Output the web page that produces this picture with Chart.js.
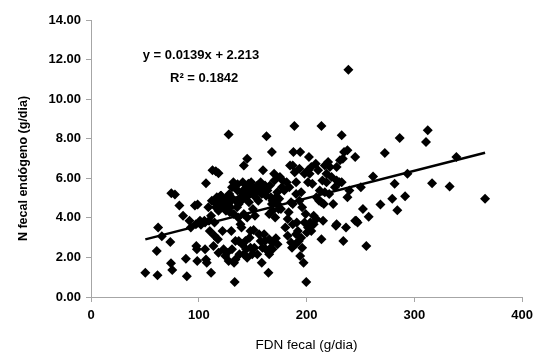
<!DOCTYPE html>
<html>
<head>
<meta charset="utf-8">
<script src="https://cdn.jsdelivr.net/npm/chart.js@4/dist/chart.umd.min.js"></script>
<style>
  html, body { margin: 0; padding: 0; background: #fff; }
  canvas { display: block; }
</style>
</head>
<body>
<canvas id="fdnChart" width="539" height="354"></canvas>
<script>
// FDN fecal (g/dia) vs N fecal endógeno (g/dia)
const fdnFecal = [
  50.4, 61.7, 61.0, 62.3, 65.7, 73.6, 74.2, 75.4, 74.5, 77.9,
  82.0, 85.4, 88.0, 88.9, 91.4, 92.6, 96.4, 98.9, 97.7, 98.2,
  98.6, 97.3, 102.0, 105.2, 105.8, 106.7, 107.4, 106.7, 109.5, 110.2,
  111.4, 112.1, 112.7, 115.8, 118.3, 113.6, 114.6, 115.8, 116.7, 117.7,
  118.9, 120.2, 121.4, 122.0, 123.0, 124.6, 125.2, 126.1, 127.1, 127.7,
  128.3, 129.3, 127.7, 130.2, 130.8, 132.1, 133.3, 132.7, 134.0, 132.4,
  134.6, 135.5, 136.5, 137.1, 137.7, 138.7, 139.6, 140.2, 140.8, 141.8,
  142.7, 143.3, 144.0, 144.9, 145.2, 146.5, 147.1, 148.0, 149.0, 149.6,
  150.2, 150.9, 151.5, 152.1, 153.4, 154.3, 155.9, 157.4, 158.4, 159.0,
  158.4, 159.6, 160.6, 161.5, 162.1, 162.8, 164.6, 165.3, 166.0, 166.8,
  167.8, 167.8, 168.4, 169.9, 170.9, 171.5, 173.1, 174.0, 175.3, 176.2,
  177.8, 179.3, 180.3, 181.5, 182.5, 183.4, 184.7, 185.6, 186.5, 187.2,
  188.7, 187.8, 189.0, 190.3, 190.9, 191.9, 192.8, 194.1, 194.1, 195.0,
  195.9, 197.2, 198.1, 199.1, 199.7, 200.3, 201.3, 202.2, 202.8, 203.4,
  204.4, 205.3, 206.6, 208.5, 209.1, 211.6, 213.8, 213.8, 214.7, 215.3,
  216.0, 216.9, 218.5, 220.0, 221.0, 223.2, 224.7, 226.3, 227.2, 227.9,
  230.4, 232.6, 233.6, 234.1, 236.6, 237.9, 238.8, 237.9, 239.7, 245.1,
  246.0, 250.4, 252.3, 255.4, 257.6, 261.7, 268.5, 272.6, 279.5, 281.7,
  284.2, 286.4, 291.4, 293.6, 310.8, 312.4, 316.4, 332.7, 339.0, 365.6,
  108.9, 111.4, 118.3, 120.8, 123.0, 124.6, 130.2, 133.3, 137.1, 138.7,
  143.3, 145.8, 149.6, 152.7, 155.2, 156.5, 161.5, 163.7, 168.4, 171.5,
  173.1, 174.6, 177.1, 168.4, 165.3, 141.8, 144.9, 148.0, 140.2, 141.8,
  144.9, 154.3, 155.9, 157.4, 165.3, 166.8, 168.4, 134.0, 130.8, 126.1,
  118.3, 114.6, 105.8, 101.1, 190.3, 193.4, 187.2, 184.0, 195.9, 198.1,
  201.3, 204.4, 190.3, 189.7, 195.0, 182.5, 185.6, 187.2, 193.4, 201.3,
  210.7, 212.2, 218.5, 221.6, 227.9, 231.0, 232.6, 234.8, 227.9, 245.1,
  247.3, 209.1, 213.8, 216.9, 206.6,
  119.5, 125.8, 131.5, 135.9, 147.3, 151.0, 159.3, 170.2, 126.5, 136.0,
  146.0, 153.0, 142.5, 162.5, 172.8, 128.8, 139.3, 121.7, 116.2, 148.6
];
const nEndogeno = [
  1.22, 1.10, 2.32, 3.51, 3.07, 2.78, 1.71, 1.37, 5.24, 5.18,
  4.62, 4.11, 1.93, 1.05, 3.85, 3.51, 4.62, 4.67, 2.58, 2.41,
  1.82, 3.68, 3.65, 3.85, 2.41, 1.90, 1.73, 5.75, 3.85, 3.34,
  1.22, 4.87, 6.40, 6.35, 6.26, 2.58, 3.09, 4.53, 5.04, 2.92,
  4.87, 5.12, 4.70, 3.34, 2.41, 2.07, 4.36, 4.87, 4.70, 8.21,
  5.21, 4.53, 1.82, 3.34, 5.55, 5.80, 0.76, 1.73, 1.90, 4.19,
  4.87, 4.53, 4.02, 2.83, 2.16, 3.68, 3.51, 5.29, 5.80, 6.65,
  5.04, 2.83, 2.41, 6.99, 5.63, 4.79, 3.00, 2.49, 5.46, 2.16,
  4.45, 3.38, 2.49, 4.11, 5.29, 5.63, 5.38, 5.80, 5.21, 2.49,
  1.73, 6.40, 3.17, 2.83, 2.41, 8.13, 1.22, 2.16, 5.63, 5.04,
  4.70, 7.33, 2.41, 6.23, 4.02, 2.97, 2.66, 4.45, 6.06, 4.45,
  5.89, 5.38, 3.51, 5.80, 3.09, 4.28, 6.65, 2.75, 2.49, 3.68,
  8.64, 7.33, 6.31, 5.80, 3.77, 3.34, 2.83, 7.33, 2.07, 5.29,
  2.49, 1.73, 6.23, 4.19, 0.76, 3.26, 5.80, 7.08, 6.23, 3.77,
  6.57, 5.72, 3.68, 6.74, 3.94, 4.87, 8.64, 2.92, 5.89, 3.85,
  4.70, 6.65, 6.23, 6.82, 5.21, 6.06, 4.70, 5.55, 3.60, 6.57,
  5.80, 8.18, 6.99, 2.83, 3.51, 7.42, 11.49, 5.04, 5.38, 7.08,
  3.85, 5.55, 4.45, 2.58, 4.06, 6.09, 4.67, 7.28, 4.96, 5.72,
  4.39, 8.03, 5.09, 6.23, 7.84, 8.43, 5.75, 5.58, 7.08, 4.96,
  4.53, 4.11, 4.36, 5.12, 4.53, 4.96, 4.87, 5.55, 4.70, 5.04,
  5.29, 5.12, 5.55, 5.04, 4.87, 5.46, 5.63, 5.38, 4.87, 5.04,
  4.70, 4.96, 5.55, 4.36, 4.19, 4.19, 4.02, 3.34, 2.66, 2.16,
  1.99, 2.16, 3.17, 2.83, 2.92, 2.49, 2.75, 2.83, 2.41, 2.24,
  2.24, 3.77, 3.77, 3.85, 5.21, 4.87, 4.70, 5.55, 4.53, 3.77,
  3.51, 3.34, 3.17, 2.66, 3.00, 3.94, 4.79, 6.65, 6.48, 6.40,
  6.40, 5.38, 5.80, 6.57, 5.89, 6.91, 5.80, 7.33, 3.68, 3.85,
  3.77, 5.04, 4.79, 5.29, 4.11,
  4.62, 4.45, 4.96, 5.38, 5.38, 5.21, 5.46, 5.89, 5.04, 5.70,
  5.72, 5.46, 5.46, 5.12, 5.29, 4.28, 4.87, 4.87, 4.70, 5.80
];

const xTicks = [0, 100, 200, 300, 400];
const yTicks = [0, 2, 4, 6, 8, 10, 12, 14];

// linear trend shown on the chart
const slope = 0.0139;
const intercept = 2.213;
const eqLabel = "y = 0.0139x + 2.213";
const r2Label = "R\u00B2 = 0.1842";

const points = fdnFecal.map((x, i) => ({ x: x, y: nEndogeno[i] }));
const xMin = Math.min(...fdnFecal);
const xMax = Math.max(...fdnFecal);
const trend = [xMin, xMax].map(x => ({ x: x, y: slope * x + intercept }));

const FONT = "'Liberation Sans', Arial, sans-serif";
const axisGray = "#a6a6a6";

const textPlugin = {
  id: "texts",
  afterDraw(chart) {
    const { ctx } = chart;
    const xs = chart.scales.x, ys = chart.scales.y;
    ctx.save();
    ctx.fillStyle = "#000";
    ctx.textAlign = "center";
    ctx.textBaseline = "middle";
    ctx.font = "bold 13px " + FONT;
    ctx.fillText(eqLabel, xs.getPixelForValue(102), ys.getPixelForValue(12.2));
    ctx.fillText(r2Label, xs.getPixelForValue(105), ys.getPixelForValue(11.07));
    // y axis title
    ctx.font = "bold 12.5px " + FONT;
    ctx.translate(24, (ys.top + ys.bottom) / 2 + 10);
    ctx.rotate(-Math.PI / 2);
    ctx.fillText("N fecal endógeno (g/dia)", 0, 0);
    ctx.restore();
  }
};

new Chart(document.getElementById("fdnChart"), {
  type: "scatter",
  data: {
    datasets: [
      {
        data: points,
        pointStyle: "rectRot",
        pointRadius: 5,
        backgroundColor: "#000",
        borderColor: "#000",
        borderWidth: 0
      },
      {
        type: "line",
        data: trend,
        borderColor: "#000",
        borderWidth: 2.5,
        pointRadius: 0,
        fill: false
      }
    ]
  },
  options: {
    responsive: false,
    animation: false,
    layout: { padding: { top: 20, right: 9, left: 0, bottom: 0 } },
    plugins: { legend: { display: false }, tooltip: { enabled: false } },
    scales: {
      x: {
        type: "linear",
        min: 0,
        max: 400,
        afterFit(s) { s.height = 57; },
        afterBuildTicks(s) { s.ticks = xTicks.map(v => ({ value: v })); },
        grid: { drawOnChartArea: false, drawTicks: true, tickLength: 5, color: axisGray },
        border: { color: axisGray, width: 1 },
        ticks: { color: "#000", padding: 6, font: { family: FONT, size: 13, weight: "bold" } },
        title: {
          display: true,
          text: "FDN fecal (g/dia)",
          color: "#000",
          padding: { top: 0, bottom: 1 },
          font: { family: FONT, size: 13.5 }
        }
      },
      y: {
        min: 0,
        max: 14,
        afterFit(s) { s.width = 91; },
        afterBuildTicks(s) { s.ticks = yTicks.map(v => ({ value: v })); },
        grid: { drawOnChartArea: false, drawTicks: true, tickLength: 5, color: axisGray },
        border: { color: axisGray, width: 1 },
        ticks: {
          color: "#000",
          padding: 5,
          font: { family: FONT, size: 13, weight: "bold" },
          callback: v => v.toFixed(2)
        }
      }
    }
  },
  plugins: [textPlugin]
});
</script>
</body>
</html>
